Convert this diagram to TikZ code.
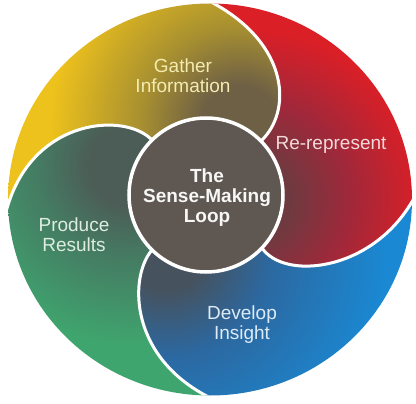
\documentclass[tikz,border=0pt]{standalone}
\usepackage{fontspec}
\setmainfont{Liberation Sans}
\definecolor{ybright}{HTML}{EEC21C}
\definecolor{ymid}{HTML}{A89030}
\definecolor{ydark}{HTML}{6E6045}
\definecolor{rbright}{HTML}{DA1F27}
\definecolor{rmid}{HTML}{A0283A}
\definecolor{rdark}{HTML}{6E3A40}
\definecolor{bbright}{HTML}{1A88D2}
\definecolor{bmid}{HTML}{2C68A0}
\definecolor{bdark}{HTML}{46525E}
\definecolor{gbright}{HTML}{3FA56E}
\definecolor{gmid}{HTML}{457A62}
\definecolor{gdark}{HTML}{4C5C56}
\definecolor{corec}{HTML}{5F5752}
\definecolor{ytext}{HTML}{F3EBB0}
\definecolor{rtext}{HTML}{F2DADA}
\definecolor{gtext}{HTML}{DDEEE0}
\definecolor{btext}{HTML}{DDEBF7}
\pgfdeclareradialshading{yrad}{\pgfpointorigin}{color(0bp)=(ydark); color(3.8bp)=(ydark); color(9.6bp)=(ymid); color(18.3bp)=(ybright); color(50bp)=(ybright)}
\pgfdeclareradialshading{rrad}{\pgfpointorigin}{color(0bp)=(rdark); color(4.2bp)=(rdark); color(10.4bp)=(rmid); color(17.7bp)=(rbright); color(50bp)=(rbright)}
\pgfdeclareradialshading{brad}{\pgfpointorigin}{color(0bp)=(bdark); color(3.8bp)=(bdark); color(10.1bp)=(bmid); color(21.2bp)=(bbright); color(50bp)=(bbright)}
\pgfdeclareradialshading{grad}{\pgfpointorigin}{color(0bp)=(gdark); color(3.8bp)=(gdark); color(8.7bp)=(gmid); color(17.3bp)=(gbright); color(50bp)=(gbright)}
\begin{document}
\begin{tikzpicture}[x=1pt,y=-1pt,
  lbl/.style={align=center, font=\fontsize{19}{20}\selectfont, inner sep=0pt},
  sep/.style={draw=white, line width=3pt}]
\useasboundingbox (0,0) rectangle (416,404);
\coordinate (O) at (206,195);
\begin{scope}
\clip (210,199.5) ellipse [x radius=202, y radius=196];
% yellow
\begin{scope}
\clip (O) -- (152,140) .. controls (125,112) and (35,118) .. (8,205) -- (3,221) -- (-10,221) -- (-10,-10)
  -- (198,-9) -- (213,3) .. controls (290,45) and (292,112) .. (261,141) -- cycle;
\shade[shading=yrad] (240,125) circle (260);
\end{scope}
% red
\begin{scope}
\clip (O) -- (261,141) .. controls (292,112) and (290,45) .. (213,3) -- (198,-9) -- (426,-12) -- (426,192)
  -- (418,192) -- (410,205) .. controls (368,272) and (284,280) .. (262,248) -- cycle;
\shade[shading=rrad] (250,200) circle (240);
\end{scope}
% blue
\begin{scope}
\clip (O) -- (262,248) .. controls (284,280) and (368,272) .. (410,205) -- (418,192) -- (426,192) -- (426,414)
  -- (221,414) -- (221,404) -- (203,394) .. controls (128,352) and (130,275) .. (152,250) -- cycle;
\shade[shading=brad] (165,250) circle (260);
\end{scope}
% green
\begin{scope}
\clip (O) -- (152,250) .. controls (130,275) and (128,352) .. (203,394) -- (221,404) -- (221,414) -- (-10,414)
  -- (-10,221) -- (3,221) -- (8,205) .. controls (35,118) and (125,112) .. (152,140) -- cycle;
\shade[shading=grad] (130,165) circle (260);
\end{scope}
% separators
\draw[sep] (261,141) .. controls (292,112) and (290,45) .. (213,3) -- (198,-9);
\draw[sep] (262,248) .. controls (284,280) and (368,272) .. (410,205) -- (418,192);
\draw[sep] (152,250) .. controls (130,275) and (128,352) .. (203,394) -- (221,404);
\draw[sep] (152,140) .. controls (125,112) and (35,118) .. (8,205) -- (3,221);
\end{scope}
\node[circle, fill=corec, draw=white, line width=3.5pt, minimum size=154pt, inner sep=0pt] (core) at (O) {};
\node[lbl, font=\fontsize{19}{20}\selectfont\bfseries, text=white!95!corec] (title) at (207,198) {The\\Sense-Making\\Loop};
\node[lbl, text=ytext] (gather) at (183,76) {Gather\\Information};
\node[lbl, text=rtext] (rerep) at (331,145) {Re-represent};
\node[lbl, text=btext] (develop) at (242,325) {Develop\\Insight};
\node[lbl, text=gtext] (produce) at (74,235) {Produce\\Results};
\end{tikzpicture}
\end{document}
